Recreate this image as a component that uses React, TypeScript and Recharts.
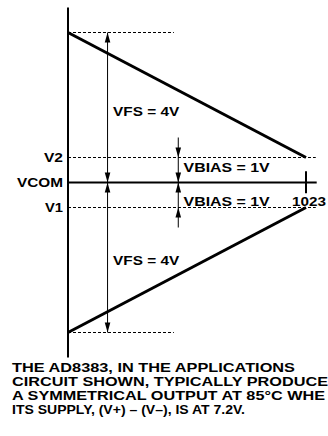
import React from 'react';
import {
  ComposedChart, Line, XAxis, YAxis, ReferenceLine, ReferenceDot
} from 'recharts';

// code axis (0 .. 1023) and output levels in volts relative to VCOM (not to scale in the original)
const codes = [0, 1023];
const upperRamp = [6, 1];
const lowerRamp = [-6, -1];

const levelTicks = [1, 0, -1];
const levelNames = ['V2', 'VCOM', 'V1'];
const levelWidths = [19, 46, 18];

const fullScaleGuides = [6, -6];
const biasGuides = [1, -1];

const captionLines = [
  'THE AD8383, IN THE APPLICATIONS',
  'CIRCUIT SHOWN, TYPICALLY PRODUCE',
  'A SYMMETRICAL OUTPUT AT 85°C WHE',
  'ITS SUPPLY, (V+) – (V–), IS AT 7.2V.',
];
const captionWidths = [283, 316, 313, 233];

const FONT = '"Liberation Sans", Arial, Helvetica, sans-serif';

const upperData = codes.map((x, i) => ({ x, y: upperRamp[i] }));
const lowerData = codes.map((x, i) => ({ x, y: lowerRamp[i] }));

// dimension arrows: shaft + head tips (dir: -1 points up, 1 points down on screen)
const arrows = [
  { x: 170, from: 6, to: 0, heads: [{ y: 6, dir: -1 }, { y: 0, dir: 1 }] },
  { x: 170, from: 0, to: -6, heads: [{ y: 0, dir: -1 }, { y: -6, dir: 1 }] },
  { x: 474, from: 1.8, to: 0, heads: [{ y: 1, dir: 1 }, { y: 0, dir: 1 }] },
  { x: 474, from: 0, to: -1.8, heads: [{ y: 0, dir: -1 }, { y: -1, dir: -1 }] },
];

const labels = [
  { x: 194, y: 2.86, text: 'VFS = 4V', anchor: 'start', w: 66 },
  { x: 194, y: -3.1, text: 'VFS = 4V', anchor: 'start', w: 66 },
  { x: 497, y: 0.6, text: 'VBIAS = 1V', anchor: 'start', w: 86 },
  { x: 497, y: -0.74, text: 'VBIAS = 1V', anchor: 'start', w: 86 },
  { x: 1036, y: -0.74, text: '1023', anchor: 'middle', w: 34 },
];

const Head = ({ cx, cy, dir }: any) => {
  if (cx == null || cy == null) return null;
  const len = 10;
  const hw = 2.8;
  const by = cy - dir * len;
  return <path d={`M${cx},${cy} L${cx - hw},${by} L${cx + hw},${by} Z`} fill="#000" />;
};

const Label = ({ cx, cy, text, anchor, w }: any) => (
  <text
    x={cx}
    y={cy}
    dy="0.355em"
    textAnchor={anchor}
    textLength={w}
    lengthAdjust="spacingAndGlyphs"
    fontFamily={FONT}
    fontWeight={700}
    fontSize={13.5}
    fill="#000"
  >
    {text}
  </text>
);

const LevelTick = ({ x, y, payload }: any) => {
  const i = levelTicks.indexOf(payload.value);
  if (i < 0) return null;
  return (
    <text
      x={x}
      y={y}
      dy="0.355em"
      textAnchor="end"
      textLength={levelWidths[i]}
      lengthAdjust="spacingAndGlyphs"
      fontFamily={FONT}
      fontWeight={700}
      fontSize={13.5}
      fill="#000"
    >
      {levelNames[i]}
    </text>
  );
};

export default function App() {
  return (
    <div style={{ position: 'absolute', left: 0, top: 0, width: 328, height: 436, background: '#fff', overflow: 'hidden' }}>
      <ComposedChart width={328} height={365} margin={{ top: 7.5, right: 11.3, bottom: 7.5, left: 0 }}>
        <XAxis type="number" dataKey="x" domain={[0, 1069]} hide />
        <YAxis
          type="number"
          domain={[-7, 7]}
          ticks={levelTicks}
          width={68}
          tickLine={false}
          tickSize={3}
          tickMargin={2}
          axisLine={{ stroke: '#000', strokeWidth: 2 }}
          tick={<LevelTick />}
        />

        {fullScaleGuides.map((y) => (
          <ReferenceLine key={'fs' + y} segment={[{ x: 0, y }, { x: 455, y }]} stroke="#000" strokeWidth={1} strokeDasharray="3 2" />
        ))}
        {biasGuides.map((y) => (
          <ReferenceLine key={'b' + y} segment={[{ x: 0, y }, { x: 1065, y }]} stroke="#000" strokeWidth={1} strokeDasharray="3 2" />
        ))}

        <ReferenceLine y={0} stroke="#000" strokeWidth={2} />
        <ReferenceLine segment={[{ x: codes[1], y: 0.45 }, { x: codes[1], y: -0.43 }]} stroke="#000" strokeWidth={2} />

        {arrows.map((a, i) => (
          <ReferenceLine key={'a' + i} segment={[{ x: a.x, y: a.from }, { x: a.x, y: a.to }]} stroke="#000" strokeWidth={1} />
        ))}
        {arrows.flatMap((a, i) =>
          a.heads.map((h, j) => (
            <ReferenceDot
              key={'h' + i + '-' + j}
              x={a.x}
              y={h.y}
              r={1}
              shape={(p: any) => <Head cx={p.cx} cy={p.cy} dir={h.dir} />}
            />
          ))
        )}

        <Line data={upperData} dataKey="y" stroke="#000" strokeWidth={3} dot={false} isAnimationActive={false} legendType="none" />
        <Line data={lowerData} dataKey="y" stroke="#000" strokeWidth={3} dot={false} isAnimationActive={false} legendType="none" />

        {labels.map((l, i) => (
          <ReferenceDot
            key={'l' + i}
            x={l.x}
            y={l.y}
            r={1}
            shape={(p: any) => <Label cx={p.cx} cy={p.cy} text={l.text} anchor={l.anchor} w={l.w} />}
          />
        ))}
      </ComposedChart>

      <svg width={328} height={86} style={{ position: 'absolute', left: 0, top: 350, overflow: 'hidden' }}>
        <text fontFamily={FONT} fontWeight={700} fontSize={12.4} fill="#000">
          {captionLines.map((t, i) => (
            <tspan
              key={i}
              x={12}
              y={22 + i * 14}
              textLength={captionWidths[i]}
              lengthAdjust="spacingAndGlyphs"
            >
              {t}
            </tspan>
          ))}
        </text>
      </svg>
    </div>
  );
}
